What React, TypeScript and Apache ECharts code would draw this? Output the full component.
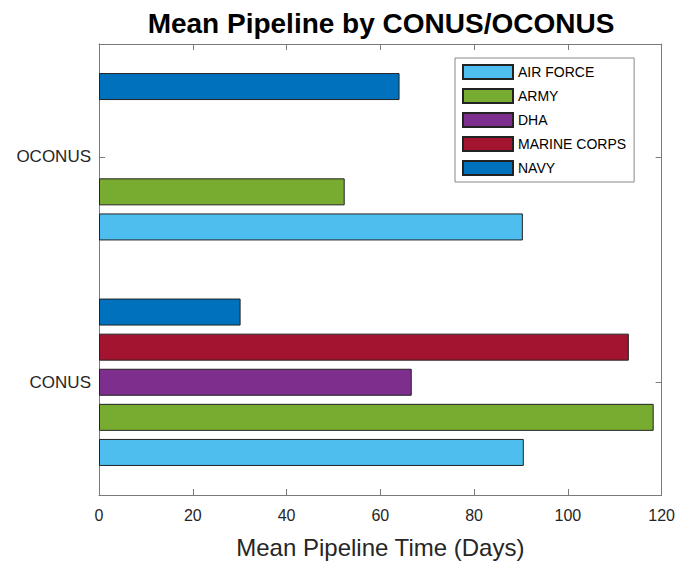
import React, { useEffect, useRef } from "react";
import * as echarts from "echarts";

const categories = ["CONUS", "OCONUS"];
const seriesNames = ["AIR FORCE", "ARMY", "DHA", "MARINE CORPS", "NAVY"];
const airForce = [90.6, 90.4];
const army = [118.3, 52.4];
const dha = [66.7, null];
const marineCorps = [113.0, null];
const navy = [30.2, 64.1];
const xTicks = [0, 120, 20];

const colors = ["#4DBEEE", "#77AC30", "#7E2F8E", "#A2142F", "#0072BD"];
const FONT = "'Liberation Sans', Arial, Helvetica, sans-serif";

export default function App() {
  const ref = useRef<HTMLDivElement>(null);
  useEffect(() => {
    document.body.style.margin = "0";
    const chart = echarts.init(ref.current!, null, { renderer: "svg" });
    const values = [airForce, army, dha, marineCorps, navy];
    const axisColor = "#7a7a7a";
    const order = [4, 3, 2, 1, 0];
    const line = { show: true, onZero: false, lineStyle: { color: axisColor } };
    const yTick = () => ({
      show: true,
      inside: true,
      length: 6,
      alignWithLabel: true,
      lineStyle: { color: axisColor, width: 1 },
    });
    const xTick = () => ({ show: true, inside: true, length: 6, lineStyle: { color: axisColor } });
    chart.setOption({
      animation: false,
      textStyle: { fontFamily: FONT },
      grid: { left: 99, right: 16, top: 44, bottom: 66 },
      graphic: [
        {
          type: "text",
          x: 381,
          y: 23,
          style: {
            text: "Mean Pipeline by CONUS/OCONUS",
            fontFamily: FONT,
            fontSize: 28,
            fontWeight: "bold",
            fill: "#000",
            textAlign: "center",
            textVerticalAlign: "middle",
          },
        },
      ],
      legend: {
        orient: "vertical",
        left: 455,
        top: 58,
        itemWidth: 50,
        itemHeight: 14,
        itemGap: 8,
        padding: [6, 8, 6, 7],
        borderColor: "#888",
        borderWidth: 1,
        backgroundColor: "#fff",
        icon: "rect",
        textStyle: { fontSize: 14, color: "#000", fontFamily: FONT },
        data: seriesNames,
      },
      xAxis: [
        {
          type: "value",
          min: xTicks[0],
          max: xTicks[1],
          interval: xTicks[2],
          position: "bottom",
          name: "Mean Pipeline Time (Days)",
          nameLocation: "middle",
          nameGap: 40,
          nameTextStyle: { fontSize: 24, color: "#262626", fontFamily: FONT },
          axisLine: line,
          axisTick: xTick(),
          axisLabel: { fontSize: 16, color: "#262626", margin: 12, fontFamily: FONT },
          splitLine: { show: false },
        },
        {
          type: "value",
          min: xTicks[0],
          max: xTicks[1],
          interval: xTicks[2],
          position: "top",
          axisLine: line,
          axisTick: xTick(),
          axisLabel: { show: false },
          splitLine: { show: false },
        },
      ],
      yAxis: [
        {
          type: "category",
          data: categories,
          position: "left",
          axisLine: line,
          axisTick: yTick(),
          axisLabel: { fontSize: 17, color: "#262626", margin: 8, fontFamily: FONT },
          splitLine: { show: false },
        },
        {
          type: "category",
          data: categories,
          position: "right",
          axisLine: line,
          axisTick: yTick(),
          axisLabel: { show: false },
          splitLine: { show: false },
        },
      ],
      series: order.map((i) => ({
        name: seriesNames[i],
        type: "bar",
        xAxisIndex: 0,
        yAxisIndex: 0,
        data: values[i],
        barWidth: 27,
        barGap: "30%",
        itemStyle: { color: colors[i], borderColor: "#222", borderWidth: 1 },
      })),
    });
    return () => chart.dispose();
  }, []);
  return <div ref={ref} style={{ width: 678, height: 564 }} />;
}
